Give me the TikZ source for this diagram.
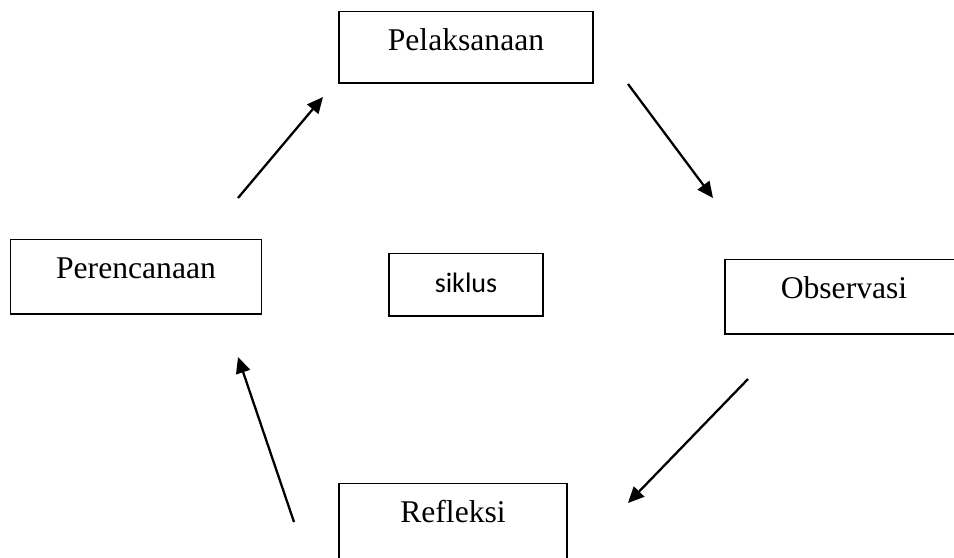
\documentclass[tikz,border=0pt]{standalone}
\usepackage{fontspec}
\setmainfont{Liberation Serif}
\newfontfamily\calibrifont{Carlito}
\usetikzlibrary{arrows.meta}
\tikzset{
  stepbox/.style={draw,line width=1pt,anchor=base,inner xsep=0pt,inner ysep=0pt,
    text height=.77cm,text depth=.72cm,font=\fontsize{18}{20}\selectfont},
  cyclearrow/.style={line width=1.3pt,-{Triangle[length=3.2mm,width=2.9mm]}}
}
\begin{document}
\begin{tikzpicture}[x=.02cm,y=-.02cm]
\useasboundingbox (0,0) rectangle (954,558);
\clip (0,0) rectangle (954,558);
\node[stepbox,minimum width=5.08cm,text depth=.66cm] (pela) at (466,50) {Pelaksanaan};
\node[stepbox,minimum width=5.02cm] (pere) at (136,278) {Perencanaan};
\node[stepbox,minimum width=4.76cm] (obs) at (844,298) {Observasi};
\node[stepbox,minimum width=4.56cm,text depth=1cm] (refl) at (453,522) {Refleksi};
\node[stepbox,minimum width=3.08cm,text depth=.48cm,font=\calibrifont\fontsize{16}{18}\selectfont] (siklus) at (466,292) {siklus};
\coordinate (a1s) at (238,198);
\coordinate (a1e) at (323,97);
\coordinate (a2s) at (628,84);
\coordinate (a2e) at (713,198);
\coordinate (a3s) at (748,379);
\coordinate (a3e) at (628,503);
\coordinate (a4s) at (294,522);
\coordinate (a4e) at (238,357);
\draw[cyclearrow] (a1s) -- (a1e);
\draw[cyclearrow] (a2s) -- (a2e);
\draw[cyclearrow] (a3s) -- (a3e);
\draw[cyclearrow] (a4s) -- (a4e);
\end{tikzpicture}
\end{document}
